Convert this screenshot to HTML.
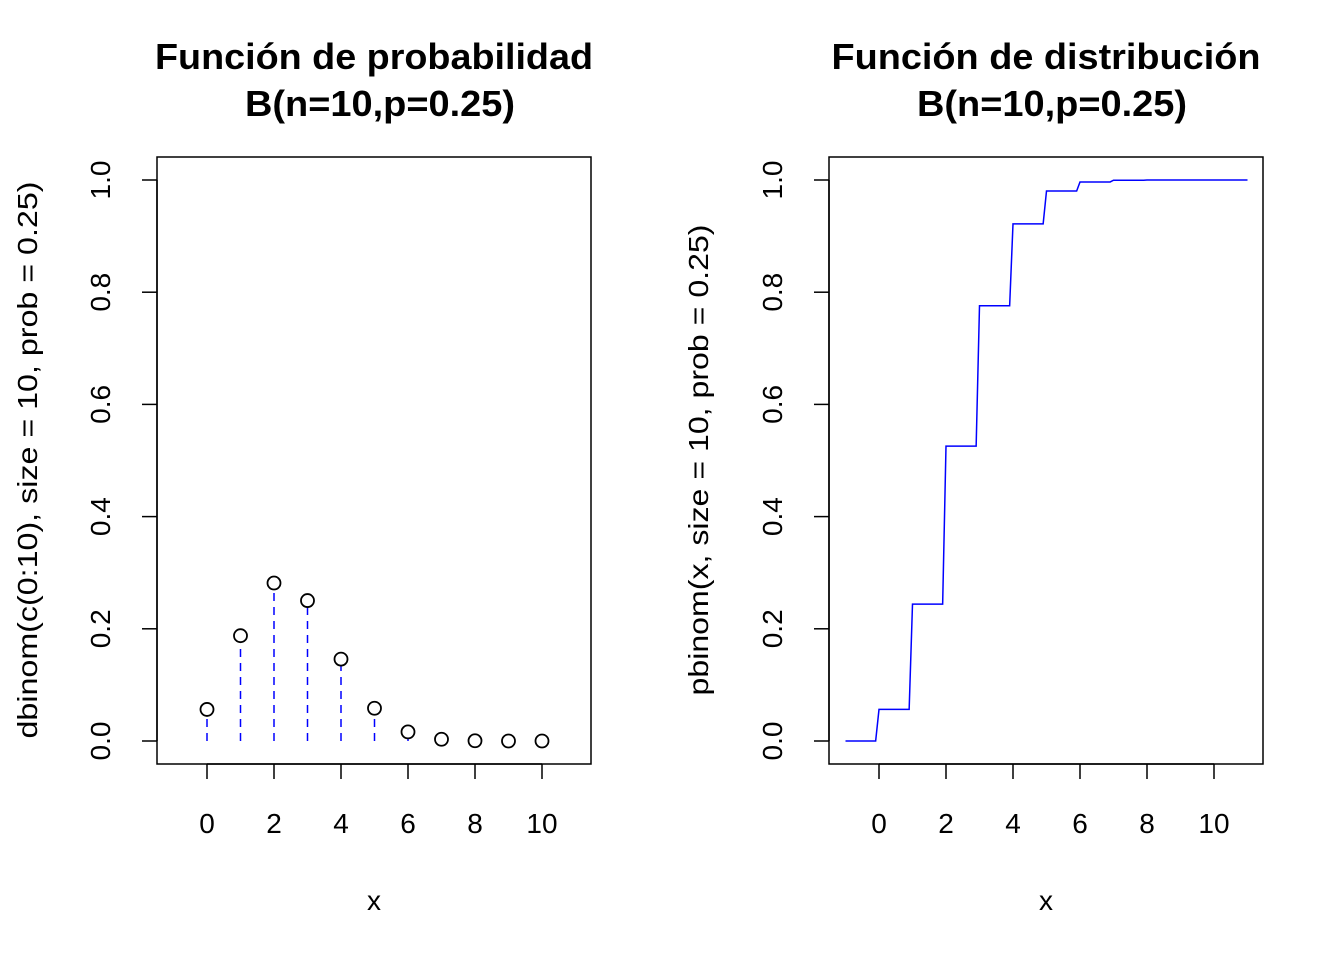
<!DOCTYPE html>
<html><head><meta charset="utf-8"><style>
body{margin:0;background:#fff}
svg text{font-family:"Liberation Sans",Arial,sans-serif;fill:#000}
</style></head><body>
<svg id="c" width="1344" height="960" xmlns="http://www.w3.org/2000/svg"></svg>
<script>
const xs = [0,1,2,3,4,5,6,7,8,9,10];
const dens = [0.0563,0.1877,0.2816,0.2503,0.1460,0.0584,0.0162,0.0031,0.0004,0.00003,0.000001];
const cdf = [0.0563,0.2440,0.5256,0.7759,0.9219,0.9803,0.9965,0.9996,1.0,1.0,1.0];
const xTicks = [0,2,4,6,8,10];
const yTicks = [0.0,0.2,0.4,0.6,0.8,1.0];
const NS='http://www.w3.org/2000/svg', svg=document.getElementById('c');
function el(t,a,p){const e=document.createElementNS(NS,t);for(const k in a)e.setAttribute(k,a[k]);(p||svg).appendChild(e);return e;}
const Y=v=>741-561*v;
function panel(off,title,titleW,ylab,ylabW,ylx,name){
  const g=el('g',{});
  
  
  const X=v=>207+off+33.5*v;
  const box=el('rect',{x:157+off,y:157,width:434,height:607,fill:'none',stroke:'#000','stroke-width':1.5},g);
  
  const t1=el('text',{x:374+off,y:69,'text-anchor':'middle','font-size':'36','font-weight':'bold',textLength:titleW,lengthAdjust:'spacingAndGlyphs'},g);t1.textContent=title;
  
  const t2=el('text',{x:380+off,y:116,'text-anchor':'middle','font-size':'36','font-weight':'bold',textLength:270,lengthAdjust:'spacingAndGlyphs'},g);t2.textContent='B(n=10,p=0.25)';
  
  el('line',{x1:X(0),x2:X(10),y1:764,y2:764,stroke:'#000','stroke-width':1.5},g);
  xTicks.forEach(v=>{el('line',{x1:X(v),x2:X(v),y1:764,y2:779,stroke:'#000','stroke-width':1.5},g);
    const t=el('text',{x:X(v),y:833,'text-anchor':'middle','font-size':'28'},g);t.textContent=v;
    });
  el('line',{y1:Y(0),y2:Y(1),x1:157+off,x2:157+off,stroke:'#000','stroke-width':1.5},g);
  yTicks.forEach(v=>{el('line',{y1:Y(v),y2:Y(v),x1:157+off,x2:142+off,stroke:'#000','stroke-width':1.5},g);
    const t=el('text',{x:110+off,y:Y(v),'text-anchor':'middle','font-size':'28',transform:`rotate(-90 ${110+off} ${Y(v)})`},g);t.textContent=v.toFixed(1);
    });
  const xl=el('text',{x:374+off,y:910,'text-anchor':'middle','font-size':'28'},g);xl.textContent='x';
  
  const yl=el('text',{x:ylx,y:460,'text-anchor':'middle','font-size':'28',textLength:ylabW,lengthAdjust:'spacingAndGlyphs',transform:`rotate(-90 ${ylx} 460)`},g);yl.textContent=ylab;
  
  return {g,X};
}
const L=panel(0,'Función de probabilidad',438,'dbinom(c(0:10), size = 10, prob = 0.25)',557,37,'left-panel');
xs.forEach((x,i)=>{
  const ln=el('line',{x1:L.X(x),x2:L.X(x),y1:Y(0),y2:Y(dens[i]),stroke:'#00f','stroke-width':1.5,'stroke-dasharray':'8,6'},L.g);
  
  const c=el('circle',{cx:L.X(x),cy:Y(dens[i]),r:6.5,fill:'#fff',stroke:'#000','stroke-width':1.8},L.g);
  
});
const R=panel(672,'Función de distribución',429,'pbinom(x, size = 10, prob = 0.25)',471,708,'right-panel');
let d=`M${R.X(-1)},${Y(0)}`;let prev=0;
xs.forEach((x,i)=>{d+=` L${R.X(x-0.1)},${Y(prev)} L${R.X(x)},${Y(cdf[i])}`;prev=cdf[i];});
d+=` L${R.X(11)},${Y(prev)}`;
const p=el('path',{d,fill:'none',stroke:'#00f','stroke-width':1.5},R.g);

</script>
</body></html>
